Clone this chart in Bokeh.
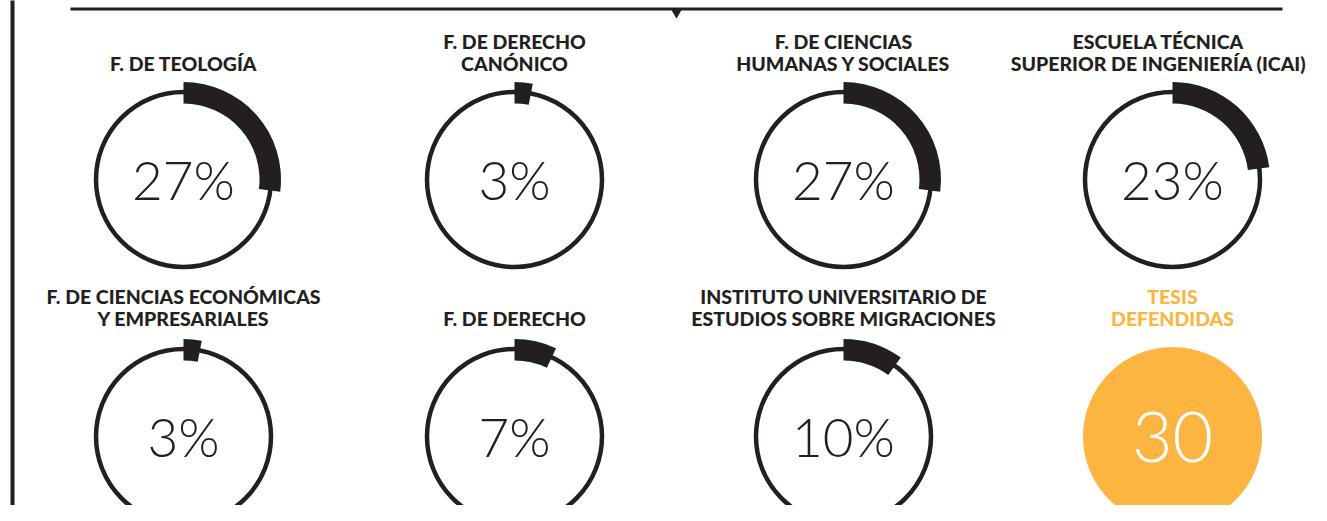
import math
from bokeh.plotting import figure
from bokeh.models import Range1d
from bokeh.core.properties import value
from bokeh.embed import file_html
from bokeh.resources import INLINE

# ---- data ----
labels = [
    "F. DE TEOLOGÍA",
    "F. DE DERECHO\nCANÓNICO",
    "F. DE CIENCIAS\nHUMANAS Y SOCIALES",
    "ESCUELA TÉCNICA\nSUPERIOR DE INGENIERÍA (ICAI)",
    "F. DE CIENCIAS ECONÓMICAS\nY EMPRESARIALES",
    "F. DE DERECHO",
    "INSTITUTO UNIVERSITARIO DE\nESTUDIOS SOBRE MIGRACIONES",
]
percents = [27, 3, 27, 23, 3, 7, 10]
total_label = "TESIS\nDEFENDIDAS"
total_value = 30

# ---- style / layout ----
DARK = "#231F20"
ORANGE = "#FBB540"
W, H = 1311, 505
COL_X = [183, 514, 843, 1172]
ROW_Y = [179, 436]
LABEL_GAP = [116, 118]
R_RING = 87.5
R_IN, R_OUT = 76, 97.5
LABEL_FONT = value("Lato Heavy")
LABEL_SIZE = "19.5px"
LABEL_MAX_CX = W - 153   # keep the widest label inside the frame

def py(y_page):
    return H - y_page

p = figure(width=W, height=H, x_range=Range1d(0, W), y_range=Range1d(0, H),
           output_backend="svg", toolbar_location=None, min_border=0)
p.axis.visible = False
p.grid.visible = False
p.outline_line_color = None
p.background_fill_color = "white"
p.border_fill_color = "white"

# decorations: top rule with small pointer, left rule
p.segment(x0=[70], y0=[py(8.5)], x1=[1282], y1=[py(8.5)], line_color=DARK, line_width=3)
p.segment(x0=[12], y0=[py(-5)], x1=[12], y1=[py(530)], line_color=DARK, line_width=4)
p.scatter(x=[676], y=[py(12.5)], marker="inverted_triangle", size=10,
          fill_color=DARK, line_color=None)

def draw_label(text, cx, cy, gap, color):
    lines = text.split("\n")
    n = len(lines)
    last_y = cy - gap
    for i, ln in enumerate(lines):
        y = last_y - (n - 1 - i) * 22.5
        p.text(x=[cx], y=[py(y)], text=[ln], text_align="center", text_baseline="middle",
               text_font=LABEL_FONT, text_font_size=LABEL_SIZE, text_color=color)

for i, (lab, pct) in enumerate(zip(labels, percents)):
    cx = COL_X[i % 4]
    row = i // 4
    cy = ROW_Y[row]
    p.circle(x=[cx], y=[py(cy)], radius=R_RING, fill_color=None, line_color=DARK, line_width=4.5)
    ang = pct / 100 * 2 * math.pi
    p.annular_wedge(x=[cx], y=[py(cy)], inner_radius=R_IN, outer_radius=R_OUT,
                    start_angle=math.pi / 2 - ang, end_angle=math.pi / 2,
                    fill_color=DARK, line_color=None)
    p.text(x=[cx], y=[py(cy)], text=[f"{pct}%"], text_align="center",
           text_baseline="middle", text_font=value("Lato Light"),
           text_font_size="53px", text_color=DARK)
    draw_label(lab, min(cx, LABEL_MAX_CX), cy, LABEL_GAP[row], DARK)

cx, cy = COL_X[3], ROW_Y[1]
p.circle(x=[cx], y=[py(cy)], radius=89.5, fill_color=ORANGE, line_color=None)
p.text(x=[cx], y=[py(cy)], text=[str(total_value)], text_align="center",
       text_baseline="middle", text_font=value("Lato Light"),
       text_font_size="70px", text_color="white")
draw_label(total_label, cx, cy, LABEL_GAP[1], ORANGE)

open("out.html", "w").write(file_html(p, INLINE))
